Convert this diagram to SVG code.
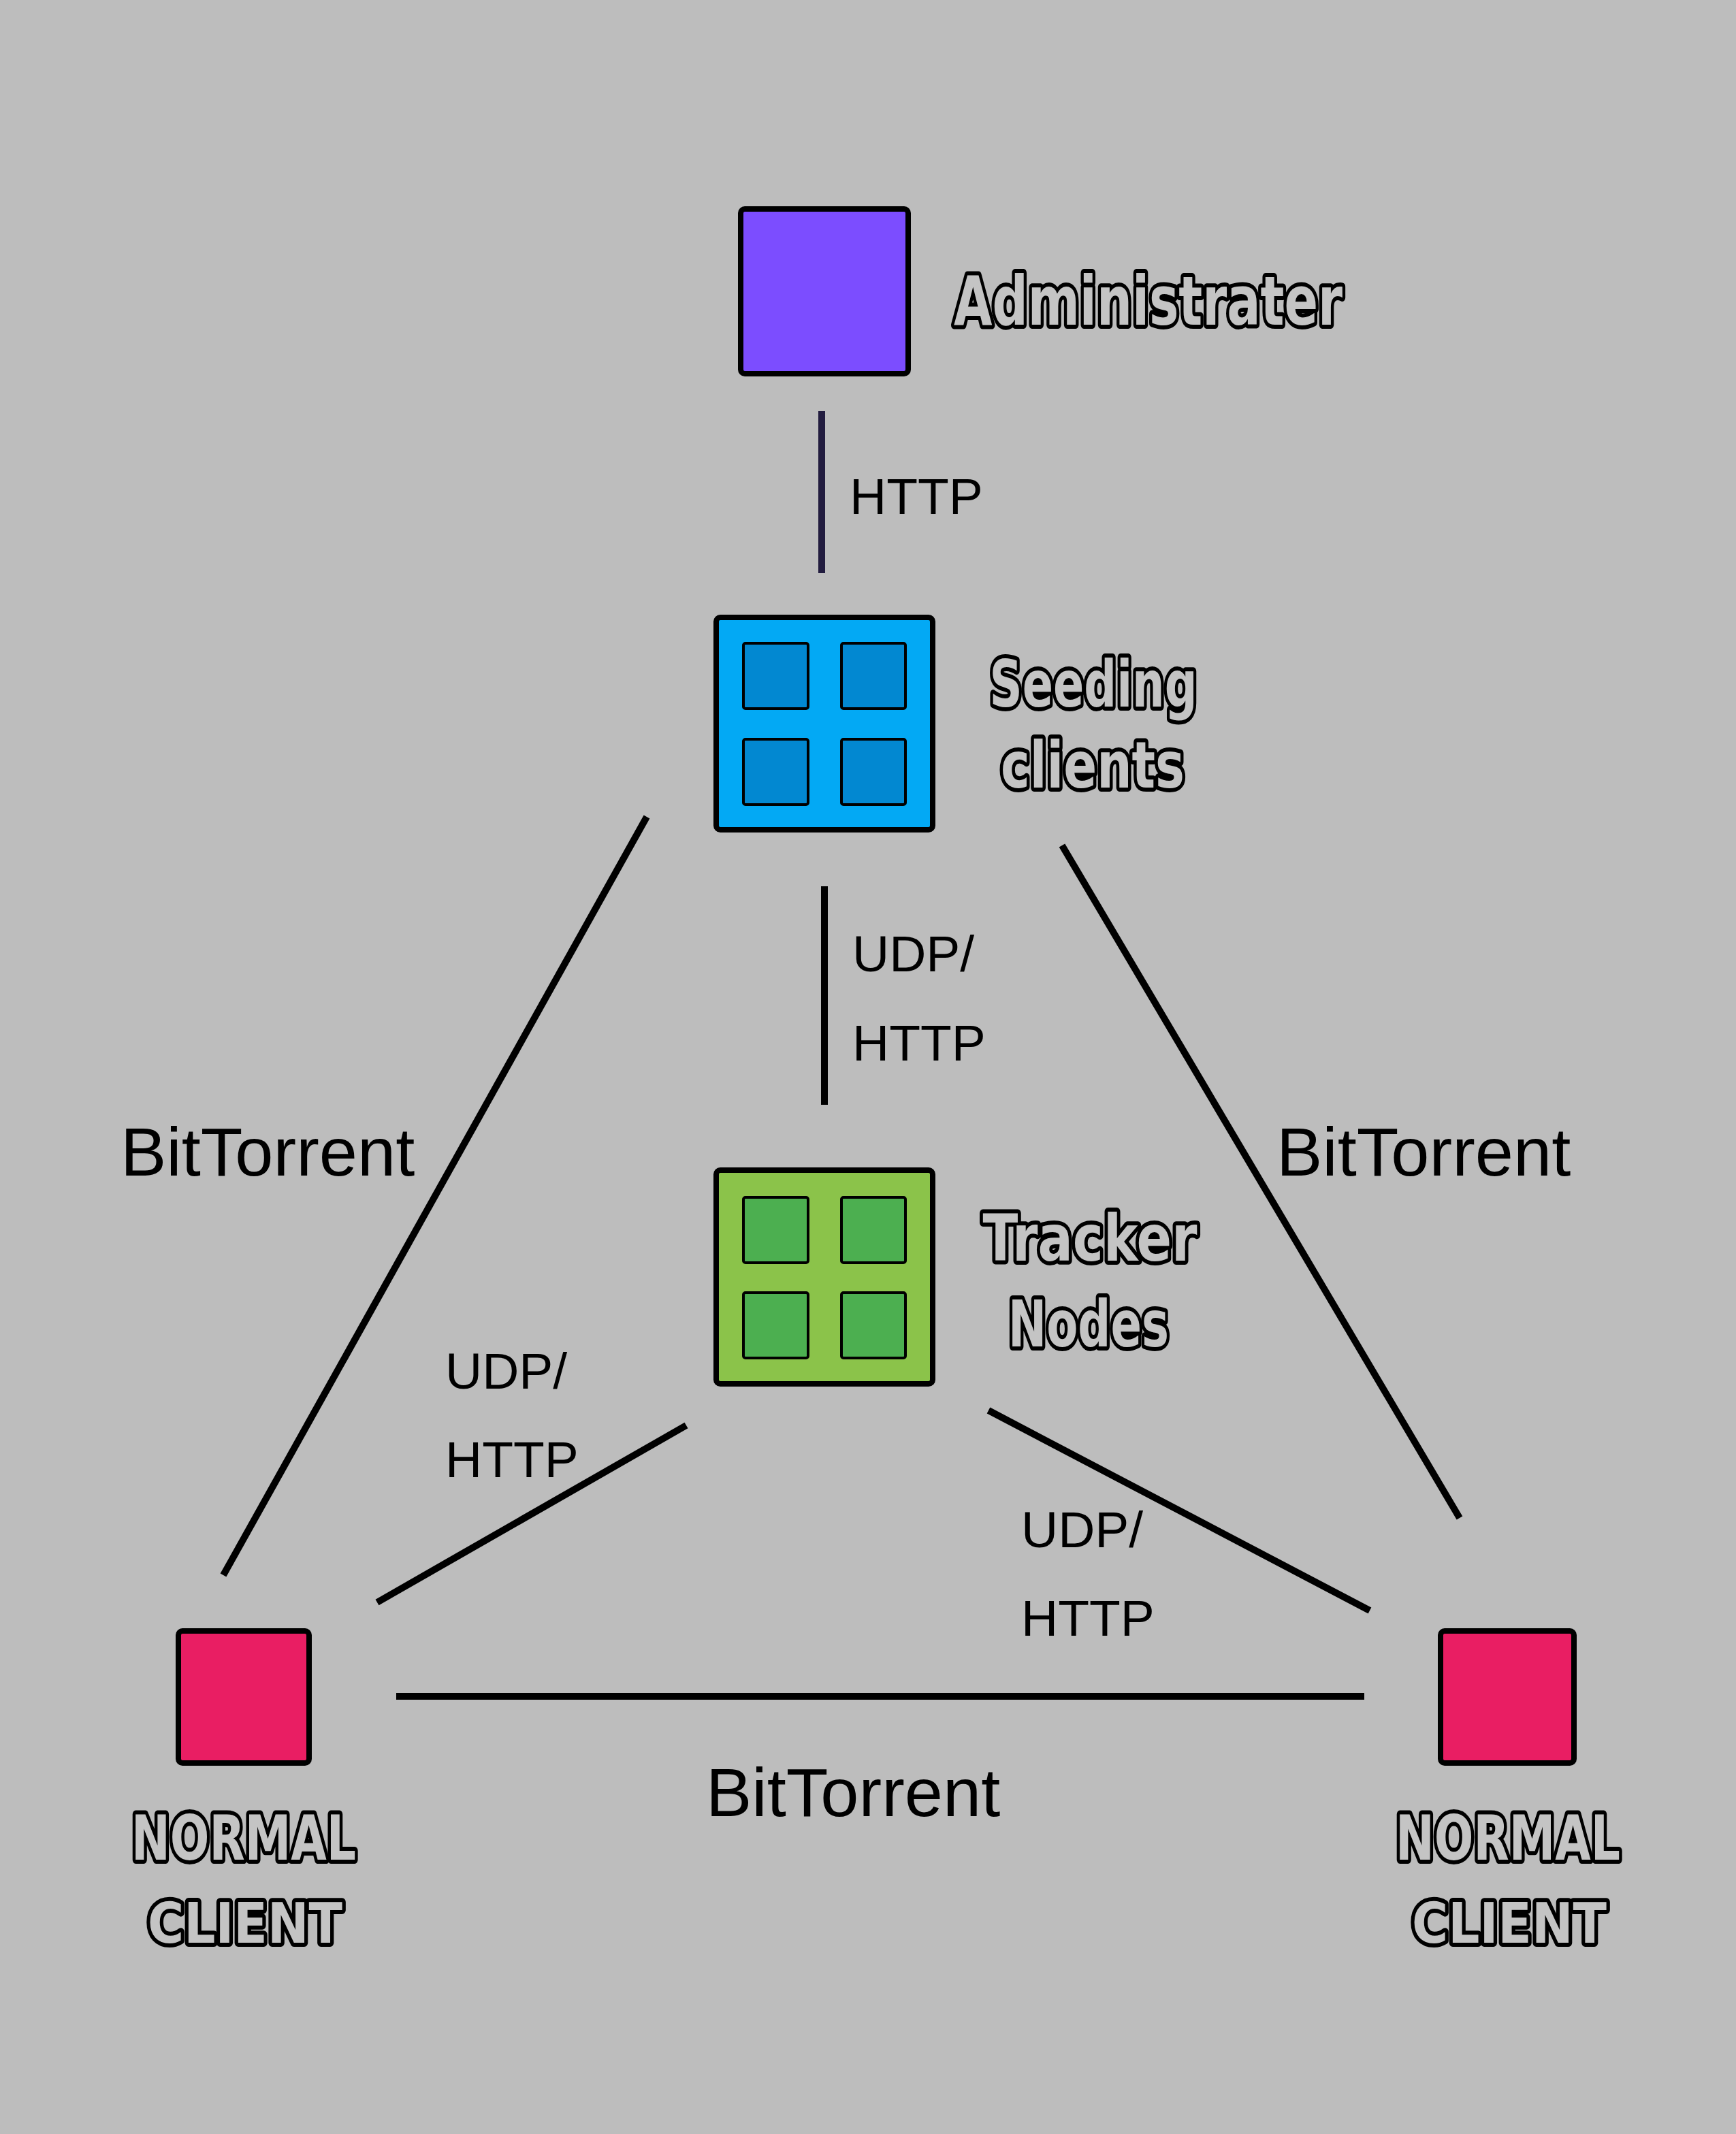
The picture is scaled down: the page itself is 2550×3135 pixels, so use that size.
<svg xmlns="http://www.w3.org/2000/svg" width="2550" height="3135" viewBox="0 0 2550 3135">
<style>
.box{stroke:#000;stroke-width:8;stroke-linejoin:round}
.cell{stroke:#000;stroke-width:4;stroke-linejoin:round}
.line{stroke:#000;stroke-width:10;fill:none}
.lbl{font-family:"Liberation Sans",Arial,sans-serif;font-size:75px;fill:#000}
.big{font-family:"Liberation Sans",Arial,sans-serif;font-size:101px;fill:#000}
.bub{font-family:"DejaVu Sans","Noto Sans",sans-serif;font-weight:bold;fill:#c4c4c4;stroke:#000;stroke-width:12;stroke-linejoin:round;paint-order:stroke}
</style>
<rect width="2550" height="3135" fill="#bdbdbd"/>
<g id="connectors">
<line class="line" x1="1207" y1="604" x2="1207" y2="842" style="stroke:#221c3f"/>
<line class="line" x1="1211" y1="1302" x2="1211" y2="1623"/>
<line class="line" x1="950" y1="1200" x2="328" y2="2314"/>
<line class="line" x1="1560" y1="1242" x2="2144" y2="2230"/>
<line class="line" x1="1008" y1="2094" x2="554" y2="2354"/>
<line class="line" x1="1452" y1="2072" x2="2012" y2="2366"/>
<line class="line" x1="582" y1="2492" x2="2004" y2="2492"/>
<text class="lbl" x="1248" y="755">HTTP</text>
<text class="lbl" x="1252" y="1427">UDP/</text>
<text class="lbl" x="1252" y="1558">HTTP</text>
<text class="lbl" x="654" y="2040">UDP/</text>
<text class="lbl" x="654" y="2170">HTTP</text>
<text class="lbl" x="1500" y="2273">UDP/</text>
<text class="lbl" x="1500" y="2403">HTTP</text>
<text class="big" x="177" y="1727">BitTorrent</text>
<text class="big" x="1875" y="1727">BitTorrent</text>
<text class="big" x="1037" y="2668">BitTorrent</text>
</g>
<g id="administrator">
<rect class="box" x="1088" y="307" width="246" height="242" rx="6" fill="#7c4dff"/>
<text class="bub" x="1401" y="477" font-size="100" textLength="571" lengthAdjust="spacingAndGlyphs">Administrater</text>
</g>
<g id="seeding-clients">
<rect class="box" x="1052" y="907" width="318" height="312" rx="6" fill="#03a9f4"/>
<rect class="cell" x="1092" y="945" width="95" height="96" rx="3" fill="#0288d1"/>
<rect class="cell" x="1236" y="945" width="94" height="96" rx="3" fill="#0288d1"/>
<rect class="cell" x="1092" y="1086" width="95" height="96" rx="3" fill="#0288d1"/>
<rect class="cell" x="1236" y="1086" width="94" height="96" rx="3" fill="#0288d1"/>
<text class="bub" x="1606" y="1038" font-size="94" text-anchor="middle" textLength="305" lengthAdjust="spacingAndGlyphs">Seeding</text>
<text class="bub" x="1605" y="1157" font-size="94" text-anchor="middle" textLength="270" lengthAdjust="spacingAndGlyphs">clients</text>
</g>
<g id="tracker-nodes">
<rect class="box" x="1052" y="1719" width="318" height="314" rx="6" fill="#8bc34a"/>
<rect class="cell" x="1092" y="1759" width="95" height="96" rx="3" fill="#4caf50"/>
<rect class="cell" x="1236" y="1759" width="94" height="96" rx="3" fill="#4caf50"/>
<rect class="cell" x="1092" y="1899" width="95" height="96" rx="3" fill="#4caf50"/>
<rect class="cell" x="1236" y="1899" width="94" height="96" rx="3" fill="#4caf50"/>
<text class="bub" x="1601" y="1852" font-size="94" text-anchor="middle" textLength="315" lengthAdjust="spacingAndGlyphs">Tracker</text>
<text class="bub" x="1599" y="1978" font-size="94" text-anchor="middle" textLength="236" lengthAdjust="spacingAndGlyphs">Nodes</text>
</g>
<g id="normal-client-left">
<rect class="box" x="262" y="2396" width="192" height="194" rx="6" fill="#e91e63"/>
<text class="bub" x="358" y="2732" font-size="90" text-anchor="middle" textLength="330" lengthAdjust="spacingAndGlyphs">NORMAL</text>
<text class="bub" x="360" y="2854" font-size="82" text-anchor="middle" textLength="286" lengthAdjust="spacingAndGlyphs">CLIENT</text>
</g>
<g id="normal-client-right">
<rect class="box" x="2116" y="2396" width="196" height="194" rx="6" fill="#e91e63"/>
<text class="bub" x="2215" y="2732" font-size="90" text-anchor="middle" textLength="330" lengthAdjust="spacingAndGlyphs">NORMAL</text>
<text class="bub" x="2217" y="2854" font-size="82" text-anchor="middle" textLength="286" lengthAdjust="spacingAndGlyphs">CLIENT</text>
</g>
</svg>
